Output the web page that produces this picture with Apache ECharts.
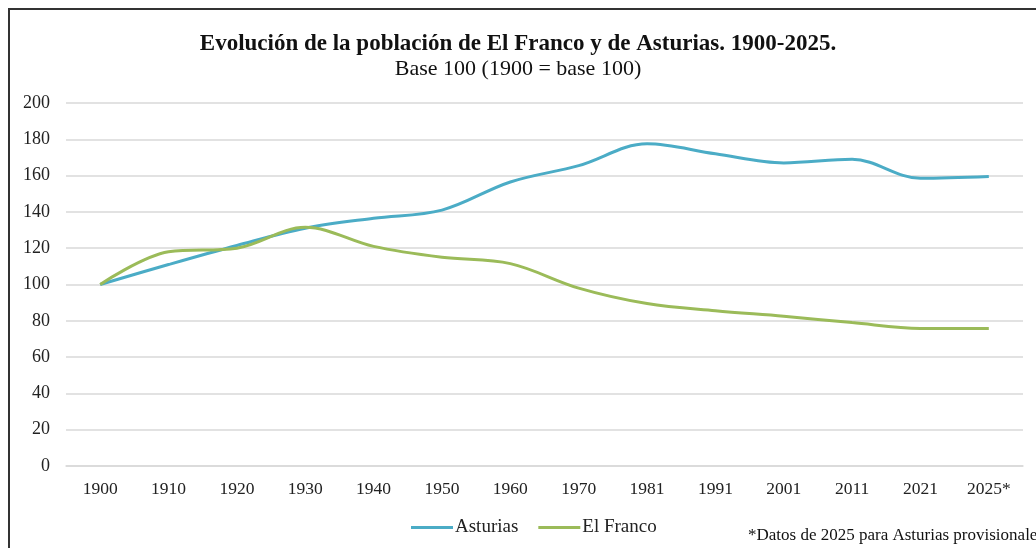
<!DOCTYPE html>
<html>
<head>
<meta charset="utf-8">
<script src="https://cdn.jsdelivr.net/npm/echarts@6/dist/echarts.min.js"></script>
<style>
  html, body { margin: 0; padding: 0; background: #fff; }
  #chart { width: 1036px; height: 548px; }
</style>
</head>
<body>
<div id="chart"></div>
<script>
var years = ['1900','1910','1920','1930','1940','1950','1960','1970','1981','1991','2001','2011','2021','2025*'];
var asturias = [100, 111, 121.5, 131, 136.5, 141, 156.5, 165.5, 177.5, 172, 167, 169, 158.5, 159.5];
var elFranco = [100, 118, 120, 131.5, 121, 115, 111.5, 98, 89.5, 85.5, 82.5, 79, 75.8, 75.8];
var yTicks = [0, 20, 40, 60, 80, 100, 120, 140, 160, 180, 200];

var myChart = echarts.init(document.getElementById('chart'));

var serif = '"Liberation Serif", "Times New Roman", serif';

option = {
    animation: false,
    title: {
        text: 'Evolución de la población de El Franco y de Asturias. 1900-2025.',
        subtext: 'Base 100 (1900 = base 100)',
        left: 'center',
        top: 28,
        itemGap: 2,
        textStyle: {
            fontFamily: serif,
            fontWeight: 'bold',
            fontSize: 23,
            color: '#111'
        },
        subtextStyle: {
            fontFamily: serif,
            fontSize: 22,
            color: '#111'
        }
    },
    legend: {
        data: ['Asturias', 'El Franco'],
        left: 406,
        top: 513,
        icon: 'rect',
        itemWidth: 42,
        itemHeight: 3,
        itemGap: 20,
        textStyle: {
            fontFamily: serif,
            fontSize: 19,
            color: '#222',
            padding: [0, 0, 0, -3]
        }
    },
    graphic: [
        {
            type: 'rect',
            shape: { x: 9, y: 9, width: 1100, height: 700 },
            style: { fill: 'none', stroke: '#333', lineWidth: 2 }
        },
        {
            type: 'text',
            left: 748,
            top: 527,
            style: {
                text: '*Datos de 2025 para Asturias provisionales',
                font: '17px "Liberation Serif", serif',
                fill: '#111'
            }
        }
    ],
    grid: {
        left: 66,
        right: 13,
        top: 103,
        bottom: 82
    },
    xAxis: {
        type: 'category',
        data: years,
        boundaryGap: true,
        axisLine: { lineStyle: { color: '#d9d9d9', width: 1.5 } },
        axisTick: { show: false },
        axisLabel: {
            fontFamily: serif,
            fontSize: 17.5,
            color: '#222',
            margin: 14
        }
    },
    yAxis: {
        type: 'value',
        min: 0,
        max: 200,
        interval: 20,
        axisLine: { show: false },
        axisTick: { show: false },
        splitLine: { lineStyle: { color: '#d9d9d9', width: 1.5 } },
        axisLabel: {
            fontFamily: serif,
            fontSize: 18,
            color: '#222',
            margin: 16,
            formatter: function (v) { return yTicks.indexOf(v) >= 0 ? String(v) : ''; }
        }
    },
    series: [
        {
            name: 'Asturias',
            type: 'line',
            data: asturias,
            smooth: 0.35,
            symbol: 'none',
            lineStyle: { color: '#4bacc6', width: 3 },
            itemStyle: { color: '#4bacc6' }
        },
        {
            name: 'El Franco',
            type: 'line',
            data: elFranco,
            smooth: 0.35,
            symbol: 'none',
            lineStyle: { color: '#9bbb59', width: 3 },
            itemStyle: { color: '#9bbb59' }
        }
    ]
};

myChart.setOption(option);
</script>
</body>
</html>
